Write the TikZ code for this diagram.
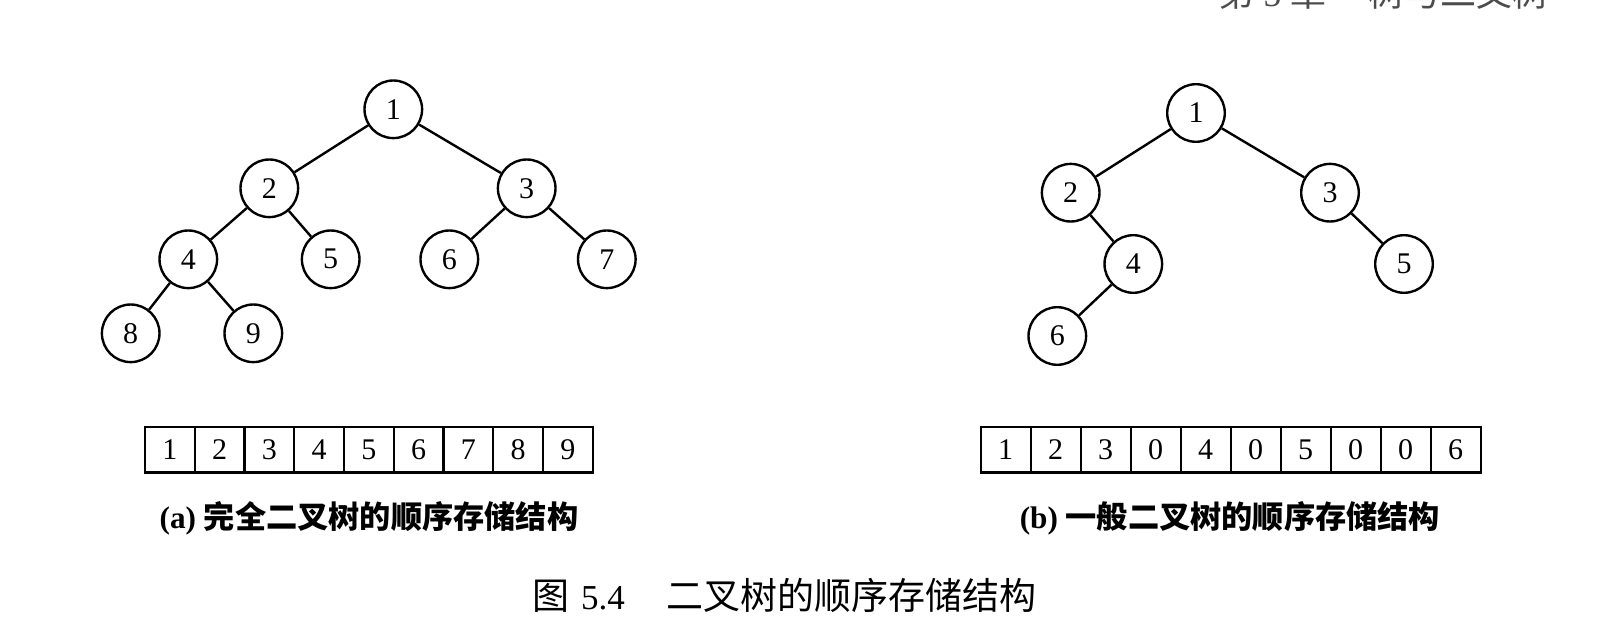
\documentclass[tikz,border=0pt]{standalone}
\usepackage{fontspec}
\setmainfont{Liberation Serif}
\newfontfamily\cjk{Noto Sans CJK SC}
\begin{document}
\begin{tikzpicture}[x=0.5pt,y=-0.5pt,
  treenode/.style={circle,draw,line width=1.2pt,minimum size=28.8pt,inner sep=0pt,font=\fontsize{15}{17}\selectfont},
  treeedge/.style={line width=1.2pt},
  cella/.style={draw,line width=1.2pt,minimum width=24.875pt,minimum height=22.8pt,inner sep=0pt,font=\fontsize{15}{17}\selectfont},
  cellb/.style={cella,minimum width=25pt},
  subcap/.style={anchor=base,inner sep=0pt,font=\fontsize{15.6}{18}\selectfont},
  maincap/.style={anchor=base west,inner sep=0pt,font=\fontsize{18.5}{20}\selectfont\cjk},
  header/.style={inner sep=0pt,text=black!70,font=\fontsize{18}{20}\selectfont}]
\fill[white] (0,0) rectangle (1618,642);
\useasboundingbox (0,0) rectangle (1618,642);
% header (cut off at the top edge)
\node[header,anchor=base west] (hdr1) at (1218,7) {{\cjk 第} 5 {\cjk 章}};
\node[header,anchor=base east] (hdr2) at (1549,7) {\cjk 树与二叉树};
% tree (a)
\node[treenode] (a1) at (393.3,109.3) {1};
\node[treenode] (a2) at (269.3,188.3) {2};
\node[treenode] (a3) at (526.7,188.3) {3};
\node[treenode] (a4) at (188.3,259.3) {4};
\node[treenode] (a5) at (330.7,259.3) {5};
\node[treenode] (a6) at (449.3,259.3) {6};
\node[treenode] (a7) at (606.8,259.3) {7};
\node[treenode] (a8) at (130.7,333.3) {8};
\node[treenode] (a9) at (253.3,333.3) {9};
\draw[treeedge] (a1) -- (a2);
\draw[treeedge] (a1) -- (a3);
\draw[treeedge] (a2) -- (a4);
\draw[treeedge] (a2) -- (a5);
\draw[treeedge] (a3) -- (a6);
\draw[treeedge] (a3) -- (a7);
\draw[treeedge] (a4) -- (a8);
\draw[treeedge] (a4) -- (a9);
% tree (b)
\node[treenode] (b1) at (1196,113) {1};
\node[treenode] (b2) at (1070.7,192.7) {2};
\node[treenode] (b3) at (1330,192.7) {3};
\node[treenode] (b4) at (1133.3,264) {4};
\node[treenode] (b5) at (1404,264) {5};
\node[treenode] (b6) at (1057.3,336) {6};
\draw[treeedge] (b1) -- (b2);
\draw[treeedge] (b1) -- (b3);
\draw[treeedge] (b2) -- (b4);
\draw[treeedge] (b3) -- (b5);
\draw[treeedge] (b4) -- (b6);
% arrays
\foreach \v [count=\i] in {1,2,3,4,5,6,7,8,9}
  \node[cella] (ca\i) at ({145+49.75*(\i-0.5)},449.5) {\v};
\foreach \v [count=\i] in {1,2,3,0,4,0,5,0,0,6}
  \node[cellb] (cb\i) at ({980.7+50*(\i-0.5)},449.5) {\v};
% captions
\node[subcap] (capa) at (369,528) {\textbf{(a)} {\cjk\bfseries 完全二叉树的顺序存储结构}};
\node[subcap] (capb) at (1230,528) {\textbf{(b)} {\cjk\bfseries 一般二叉树的顺序存储结构}};
\node[maincap] (fig) at (532,609) {图};
\node[anchor=base,inner sep=0pt,font=\fontsize{17.5}{20}\selectfont] (num) at (603,609) {5.4};
\node[maincap] (title) at (666,609) {二叉树的顺序存储结构};
\end{tikzpicture}
\end{document}
